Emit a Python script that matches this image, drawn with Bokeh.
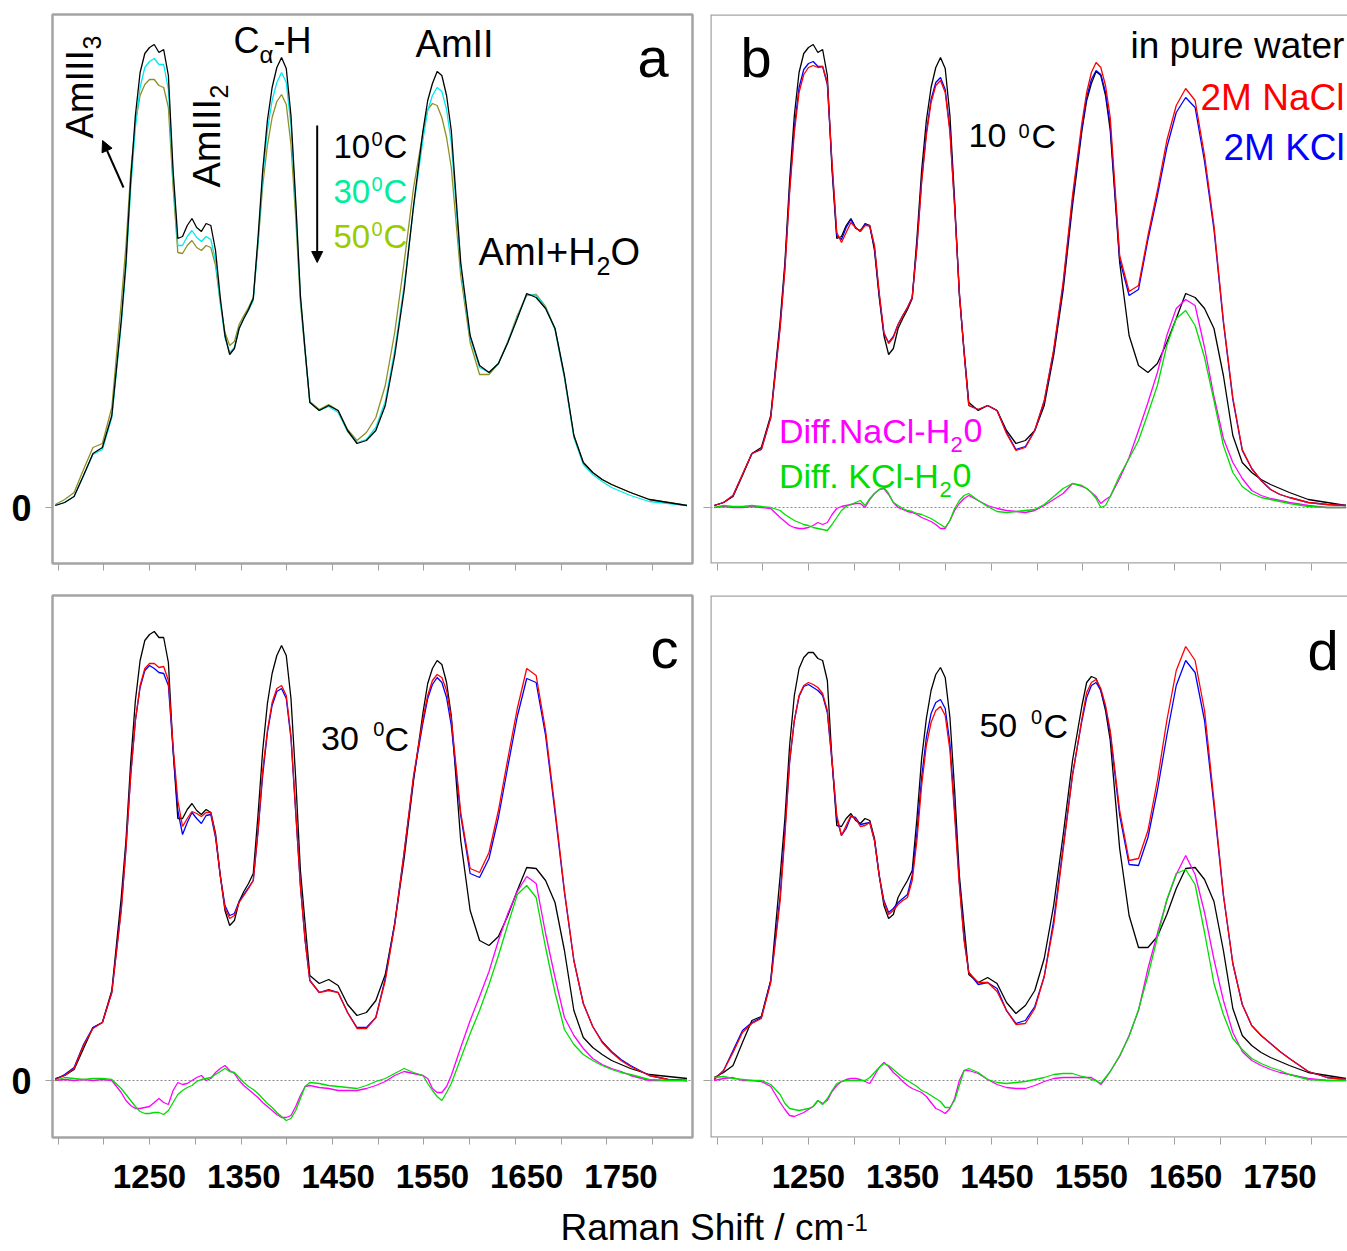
from math import pi
from bokeh.plotting import figure
from bokeh.layouts import column, row
from bokeh.models import Range1d, FixedTicker, Span, Arrow, NormalHead, LinearAxis
from bokeh.core.properties import value
from bokeh.embed import file_html
from bokeh.resources import INLINE

# ---------------- data (Raman shift in cm-1, intensity in arbitrary units) ----------------
wavenumber = [1150, 1160, 1170, 1180, 1190, 1200, 1210, 1220,
              1225, 1230, 1235, 1240, 1245, 1250, 1255, 1260, 1265, 1270,
              1275, 1280, 1285, 1290, 1295, 1300, 1305, 1310, 1315, 1320,
              1325, 1330, 1335, 1340, 1345, 1350, 1355, 1360, 1365, 1370,
              1375, 1380, 1385, 1390, 1395, 1400, 1405, 1410, 1415, 1420,
              1430, 1440, 1450, 1460, 1470, 1480, 1490, 1500, 1510, 1520, 1530, 1540,
              1545, 1550, 1555, 1560, 1565,
              1570, 1580, 1590, 1600, 1610, 1620, 1630, 1640, 1650, 1660,
              1670, 1680, 1690, 1700, 1710, 1720, 1730, 1740, 1750, 1760,
              1780, 1800, 1820]

# pure water spectra at 10, 30, 50 C
water_10 = [2, 5, 11, 32, 54, 60, 92, 187,
            245, 327, 392, 435, 454, 460, 463, 455, 458, 432,
            337, 269, 271, 282, 289, 280, 276, 284, 282, 257,
            210, 172, 153, 159, 179, 189, 198, 209, 269, 337,
            387, 420, 440, 450, 439, 392, 307, 212, 157, 105,
            97, 102, 97, 77, 64, 67, 77, 102, 152, 217, 302, 377,
            407, 424, 436, 432, 412,
            377, 245, 172, 142, 135, 144, 165, 189, 214, 210,
            199, 179, 132, 72, 45, 35, 28, 23, 19, 15,
            8, 5, 2]
water_30 = [2, 5, 11, 32, 53, 58, 90, 183,
            240, 318, 380, 420, 440, 446, 449, 443, 443, 418,
            330, 262, 262, 271, 277, 270, 266, 271, 268, 247,
            205, 170, 155, 160, 179, 189, 197, 207, 265, 330,
            377, 407, 425, 435, 425, 382, 302, 210, 157, 105,
            97, 101, 95, 76, 65, 68, 80, 106, 157, 222, 300, 368,
            397, 412, 420, 416, 398,
            365, 240, 170, 140, 135, 144, 165, 190, 213, 212,
            200, 178, 130, 70, 43, 33, 26, 20, 16, 12,
            6, 4, 2]
water_50 = [3, 8, 15, 38, 60, 64, 100, 205,
            262, 335, 385, 412, 423, 428, 428, 422, 420, 400,
            320, 255, 254, 262, 267, 260, 257, 262, 260, 242,
            205, 175, 162, 166, 183, 192, 200, 210, 262, 322,
            362, 390, 406, 413, 403, 363, 290, 205, 155, 106,
            98, 103, 97, 78, 67, 75, 90, 122, 175, 245, 320, 375,
            398, 404, 402, 390, 370,
            340, 232, 165, 133, 133, 144, 166, 192, 212, 213,
            201, 179, 130, 72, 45, 35, 28, 23, 19, 15,
            8, 5, 2]

# 2M NaCl / 2M KCl spectra and differences at 10 C
nacl_10 = [2, 5, 12, 33, 54, 58, 90, 180,
           238, 315, 375, 415, 433, 440, 442, 440, 441, 425,
           345, 275, 265, 275, 285, 280, 276, 282, 282, 262,
           215, 175, 164, 170, 183, 192, 200, 210, 260, 325,
           372, 405, 422, 427, 415, 375, 300, 215, 155, 102,
           98, 102, 97, 74, 57, 60, 77, 107, 158, 225, 312, 385,
           415, 435, 445, 440, 422,
           390, 252, 216, 222, 272, 317, 367, 402, 419, 407,
           352, 282, 187, 110, 58, 39, 27, 18, 13, 10,
           5, 3, 2]
kcl_10 = [2, 5, 12, 33, 54, 58, 90, 182,
          240, 318, 380, 420, 438, 444, 446, 441, 441, 423,
          342, 272, 268, 280, 288, 279, 277, 283, 281, 260,
          213, 174, 165, 171, 183, 192, 200, 210, 262, 327,
          375, 408, 425, 430, 418, 378, 302, 215, 155, 102,
          98, 102, 97, 75, 58, 61, 77, 106, 156, 222, 308, 380,
          410, 428, 437, 433, 415,
          382, 248, 212, 218, 268, 312, 360, 395, 410, 400,
          346, 278, 185, 108, 57, 39, 27, 18, 13, 10,
          5, 3, 2]
diff_nacl_10 = [0, 1, 0, 0, 1, 0, -1, -10,
                -14, -18, -20, -21, -21, -20, -18, -15, -17, -15,
                -7, -1, 1, 2, 3, 4, 4, 0, 8, 14,
                18, 19, 13, 5, 0, -2, -4, -5, -7, -10,
                -12, -14, -17, -21, -21, -13, -3, 4, 9, 12,
                7, 2, -1, -3, -4, -5, -3, 2, 8, 14, 24, 21,
                19, 15, 11, 4, 8,
                11, 29, 50, 77, 105, 135, 172, 199, 208, 202,
                160, 111, 69, 45, 29, 17, 12, 9, 7, 5,
                2, 0, 0]
diff_kcl_10 = [0, 2, 1, 1, 2, 1, 0, -3,
               -7, -10, -13, -15, -17, -18, -20, -21, -22, -23,
               -17, -10, -3, 1, 3, 5, 7, 2, 9, 14,
               18, 20, 14, 5, 2, -1, -3, -4, -6, -7,
               -9, -11, -14, -17, -20, -13, -1, 7, 12, 14,
               7, 1, -4, -5, -4, -3, -2, 3, 11, 19, 24, 22,
               19, 15, 9, 0, 2,
               11, 32, 49, 67, 94, 122, 162, 189, 197, 182,
               150, 107, 62, 35, 21, 14, 10, 8, 6, 4,
               1, 0, 0]

# 30 C
nacl_30 = [1, 5, 12, 35, 52, 58, 88, 170,
           232, 305, 360, 395, 412, 417, 417, 413, 414, 400,
           334, 280, 254, 262, 269, 267, 264, 268, 268, 245,
           205, 172, 162, 165, 178, 185, 192, 200, 250, 310,
           350, 378, 392, 395, 385, 345, 270, 195, 140, 100,
           88, 90, 88, 68, 52, 52, 63, 100, 155, 228, 305, 362,
           385, 400, 406, 403, 390,
           362, 268, 212, 208, 228, 270, 322, 372, 412, 405,
           350, 272, 190, 120, 77, 54, 38, 28, 20, 14,
           5, 1, 0]
kcl_30 = [1, 6, 13, 36, 53, 58, 88, 172,
          232, 305, 360, 393, 410, 415, 412, 408, 407, 395,
          330, 270, 246, 258, 268, 262, 257, 265, 266, 243,
          205, 175, 165, 167, 179, 186, 193, 200, 248, 305,
          348, 375, 389, 392, 382, 342, 268, 195, 140, 100,
          88, 91, 88, 68, 53, 53, 63, 102, 157, 228, 303, 358,
          382, 396, 403, 398, 383,
          355, 265, 207, 203, 222, 263, 314, 364, 402, 398,
          345, 268, 188, 120, 77, 54, 39, 29, 21, 15,
          5, 1, 0]
diff_nacl_30 = [0, 1, 0, 1, 0, 1, 0, -12,
                -20, -25, -28, -28, -27, -26, -22, -18, -22, -24,
                -10, -2, -4, -3, 0, 3, 5, 0, 2, 8,
                12, 15, 10, 7, 0, -5, -9, -13, -17, -22,
                -26, -30, -34, -37, -37, -35, -26, -15, -6, -5,
                -7, -8, -10, -10, -10, -8, -5, -1, 5, 9, 7, 5,
                2, -8, -12, -12, -6,
                5, 33, 60, 84, 109, 140, 167, 189, 204, 197,
                147, 103, 63, 45, 32, 22, 16, 12, 9, 5,
                0, 0, 0]
diff_kcl_30 = [0, 3, 2, 1, 2, 2, 1, -8,
               -14, -20, -26, -31, -33, -33, -32, -32, -34, -30,
               -22, -14, -10, -7, -5, -1, 1, 2, 3, 6,
               9, 12, 9, 8, 3, -2, -6, -9, -13, -18,
               -23, -27, -32, -36, -40, -38, -30, -18, -6, -2,
               -3, -5, -6, -7, -8, -5, -1, 2, 7, 12, 8, 5,
               -3, -10, -16, -20, -12,
               -3, 22, 47, 70, 96, 125, 156, 186, 195, 183,
               133, 88, 51, 36, 26, 20, 15, 11, 8, 6,
               1, 0, 0]

# 50 C
nacl_50 = [1, 10, 28, 48, 57, 62, 98, 180,
           245, 320, 360, 385, 395, 398, 396, 393, 387, 370,
           320, 265, 245, 255, 265, 262, 254, 255, 258, 240,
           205, 178, 166, 170, 176, 180, 183, 200, 240, 295,
           335, 358, 370, 374, 365, 330, 265, 195, 140, 108,
           98, 98, 89, 70, 56, 57, 72, 104, 155, 230, 305, 362,
           388, 398, 401, 392, 375,
           350, 270, 220, 222, 250, 300, 360, 410, 434, 420,
           370, 280, 186, 117, 76, 55, 45, 37, 29, 22,
           9, 3, 1]
kcl_50 = [1, 10, 30, 50, 58, 63, 100, 185,
          250, 318, 360, 384, 394, 396, 393, 390, 385, 368,
          318, 262, 245, 252, 264, 263, 256, 257, 258, 240,
          205, 180, 168, 172, 178, 182, 186, 205, 248, 303,
          343, 367, 378, 381, 372, 337, 270, 198, 142, 108,
          96, 98, 92, 70, 57, 60, 74, 104, 160, 233, 306, 360,
          383, 395, 398, 390, 373,
          347, 265, 216, 215, 243, 290, 345, 395, 420, 408,
          360, 275, 185, 117, 76, 55, 45, 37, 29, 22,
          9, 3, 1]
diff_nacl_50 = [0, 2, 3, 0, 0, -1, -6, -22,
                -29, -35, -36, -34, -32, -29, -26, -20, -23, -20,
                -11, -5, -1, 1, 2, 2, 1, -1, -3, 5,
                13, 18, 14, 8, 4, -1, -5, -8, -10, -12,
                -16, -22, -28, -30, -33, -28, -18, 0, 10, 10,
                7, 1, -4, -7, -8, -8, -5, -1, 2, 3, 3, 3,
                3, 3, 0, -4, 2,
                9, 24, 45, 70, 112, 147, 180, 206, 225, 206,
                168, 121, 80, 48, 29, 20, 15, 11, 8, 6,
                2, 0, 0]
diff_kcl_50 = [3, 4, 2, 1, 0, 0, -4, -14,
               -23, -28, -29, -30, -29, -28, -26, -20, -24, -18,
               -10, -3, -1, 0, 0, 0, 0, 0, 3, 8,
               13, 17, 15, 11, 7, 3, 0, -3, -6, -10,
               -12, -15, -18, -21, -27, -27, -20, -5, 10, 12,
               8, 1, -2, -3, -2, -1, 1, 3, 6, 7, 7, 4,
               3, 1, 0, -3, 3,
               9, 25, 44, 71, 105, 143, 181, 207, 211, 196,
               148, 97, 66, 42, 31, 22, 17, 13, 10, 6,
               1, 0, 0]

label_ticks = [1250, 1350, 1450, 1550, 1650, 1750]
minor_ticks = [1153, 1201.5, 1250, 1298.5, 1347, 1395.5, 1444, 1492.5,
               1541, 1589.5, 1638, 1686.5, 1735, 1783.5]

# ---------------- styling ----------------
FONT = "Liberation Sans"
FRAME = "#a4a4a4"
TICK = "#a0a0a0"
C_BLACK = "#000000"
C_CYAN = "#00e8f0"
C_OLIVE = "#8f8f26"
C_RED = "#ff0000"
C_BLUE = "#0000ff"
C_MAG = "#ff00ff"
C_GREEN = "#00dd00"
LW = 1.3
XSCALE = 1 / 0.943   # wavenumber units per screen pixel in the spectrum panels


def make_panel(xr, yr, width, height, left, right, top, bottom,
               tick_labels, zero_label, full_outline, zero_line):
    p = figure(width=width, height=height,
               x_range=Range1d(*xr), y_range=Range1d(*yr),
               x_axis_type=None, y_axis_type=None,
               output_backend="svg", toolbar_location=None)
    p.min_border_left = left
    p.min_border_right = right
    p.min_border_top = top
    p.min_border_bottom = bottom
    p.background_fill_color = "white"
    p.border_fill_color = "white"

    xaxis = LinearAxis(ticker=FixedTicker(ticks=label_ticks if tick_labels else [],
                                          minor_ticks=minor_ticks))
    xaxis.axis_line_color = None
    xaxis.major_tick_in = 0
    xaxis.major_tick_out = 7
    xaxis.major_tick_line_color = None
    xaxis.minor_tick_in = 0
    xaxis.minor_tick_out = 7
    xaxis.minor_tick_line_color = TICK
    xaxis.minor_tick_line_width = 1
    xaxis.major_label_text_font = FONT
    xaxis.major_label_text_font_style = "bold"
    xaxis.major_label_text_font_size = "33px"
    xaxis.major_label_text_color = "black"
    xaxis.major_label_standoff = 20
    p.add_layout(xaxis, "below")

    yaxis = LinearAxis(ticker=FixedTicker(ticks=[0], minor_ticks=[]))
    yaxis.axis_line_color = None
    yaxis.major_tick_in = 0
    yaxis.major_tick_out = 7
    yaxis.major_tick_line_color = TICK
    yaxis.minor_tick_line_color = None
    yaxis.major_label_text_font = FONT
    yaxis.major_label_text_font_style = "bold"
    yaxis.major_label_text_font_size = "36px"
    yaxis.major_label_text_color = "black"
    if zero_label:
        yaxis.major_label_standoff = 14
    else:
        yaxis.major_label_overrides = {0: ""}
        yaxis.major_label_standoff = 0
    p.add_layout(yaxis, "left")

    if full_outline:
        p.outline_line_color = FRAME
        p.outline_line_width = 2.5
    else:
        p.outline_line_color = None
        p.add_layout(Span(location=xr[0], dimension="height", line_color=FRAME, line_width=2.5))
        p.add_layout(Span(location=yr[0], dimension="width", line_color=FRAME, line_width=2.5))
        p.add_layout(Span(location=yr[1], dimension="width", line_color=FRAME, line_width=2.5))
    if zero_line:
        p.add_layout(Span(location=0, dimension="width", line_color="#8a8a8a",
                          line_width=1, line_dash="2 2", level="underlay"))
    return p


def txt(p, x, y, text, size, color="black", angle=0.0, xscale=XSCALE):
    # (x, y) is the start of the text baseline; the glyph is anchored at its middle
    if angle == 0.0:
        y = y + 0.35 * size
    else:
        x = x - 0.35 * size * xscale
    p.text(x=[x], y=[y], text=[text], text_font=value(FONT),
           text_font_size=value(f"{size}px"), text_color=color, angle=angle,
           text_align="left", text_baseline="middle")


XR_LEFT = (1147.1, 1825.8)
XR_RIGHT = (1146.1, 1821.6)
YR_TOP = (-56, 493)
YR_BOT = (-57, 485)

# ---------------- panel a ----------------
pa = make_panel(XR_LEFT, YR_TOP, 700, 590, 52, 8, 14, 27, False, True, True, False)
pa.line(wavenumber, water_50, line_color=C_OLIVE, line_width=LW)
pa.line(wavenumber, water_30, line_color=C_CYAN, line_width=LW)
pa.line(wavenumber, water_10, line_color=C_BLACK, line_width=LW)
txt(pa, 1190.6, 369, "AmIII", 38, angle=pi / 2)
txt(pa, 1198.0, 458, "3", 25, angle=pi / 2)
txt(pa, 1325.3, 320, "AmIII", 38, angle=pi / 2)
txt(pa, 1332.7, 409, "2", 25, angle=pi / 2)
txt(pa, 1339.1, 454, "C", 36)
txt(pa, 1366.6, 445, "α", 24)
txt(pa, 1381.5, 454, "-H", 36)
txt(pa, 1532.1, 450, "AmII", 38)
txt(pa, 1767.5, 430, "a", 56)
for (yy, col, lab) in [(349, "black", "10"), (304, "#00ee9c", "30"), (259, "#99cc00", "50")]:
    txt(pa, 1445.1, yy, lab, 33, color=col)
    txt(pa, 1485.4, yy + 13, "0", 20, color=col)
    txt(pa, 1498.1, yy, "C", 33, color=col)
txt(pa, 1598.9, 242, "AmI+H", 38)
txt(pa, 1724.0, 233, "2", 25)
txt(pa, 1738.9, 242, "O", 38)
pa.add_layout(Arrow(end=NormalHead(size=11, fill_color="black", line_color="black"),
                    x_start=1222.4, y_start=320, x_end=1200.2, y_end=367,
                    line_color="black", line_width=2))
pa.add_layout(Arrow(end=NormalHead(size=11, fill_color="black", line_color="black"),
                    x_start=1427.8, y_start=382, x_end=1427.8, y_end=245,
                    line_color="black", line_width=2))

# ---------------- panel b ----------------
pb = make_panel(XR_RIGHT, YR_TOP, 647, 590, 10, 0, 14, 27, False, False, False, True)
for ys, col in [(water_10, C_BLACK), (kcl_10, C_BLUE), (nacl_10, C_RED),
                (diff_nacl_10, C_MAG), (diff_kcl_10, C_GREEN)]:
    pb.line(wavenumber, ys, line_color=col, line_width=LW)
txt(pb, 1177.9, 430, "b", 56)
txt(pb, 1591.5, 449, "in pure water", 37)
txt(pb, 1665.7, 397, "2M NaCl", 37, color=C_RED)
txt(pb, 1690.1, 347, "2M KCl", 37, color=C_BLUE)
txt(pb, 1419.7, 360, "10", 34)
txt(pb, 1472.7, 370, "0", 20)
txt(pb, 1486.5, 360, "C", 34)
txt(pb, 1218.7, 65, "Diff.NaCl-H", 34, color=C_MAG)
txt(pb, 1400.6, 55, "2", 22, color=C_MAG)
txt(pb, 1414.4, 65, "0", 34, color=C_MAG)
txt(pb, 1218.7, 20, "Diff. KCl-H", 34, color=C_GREEN)
txt(pb, 1388.9, 10, "2", 22, color=C_GREEN)
txt(pb, 1402.7, 20, "0", 34, color=C_GREEN)

# ---------------- panel c ----------------
pc = make_panel(XR_LEFT, YR_BOT, 700, 610, 52, 8, 5, 63, True, True, True, True)
for ys, col in [(water_30, C_BLACK), (kcl_30, C_BLUE), (nacl_30, C_RED),
                (diff_nacl_30, C_MAG), (diff_kcl_30, C_GREEN)]:
    pc.line(wavenumber, ys, line_color=col, line_width=LW)
txt(pc, 1781.3, 412, "c", 56)
txt(pc, 1431.9, 330, "30", 34)
txt(pc, 1487.3, 345, "0", 20)
txt(pc, 1499.2, 330, "C", 34)

# ---------------- panel d ----------------
pd_ = make_panel(XR_RIGHT, YR_BOT, 647, 610, 10, 0, 5, 63, True, False, False, True)
for ys, col in [(water_50, C_BLACK), (kcl_50, C_BLUE), (nacl_50, C_RED),
                (diff_nacl_50, C_MAG), (diff_kcl_50, C_GREEN)]:
    pd_.line(wavenumber, ys, line_color=col, line_width=LW)
txt(pd_, 1779.2, 410, "d", 56)
txt(pd_, 1431.3, 343, "50", 34)
txt(pd_, 1486.0, 357, "0", 20)
txt(pd_, 1499.2, 343, "C", 34)

# ---------------- shared x-axis title ----------------
pl = figure(width=1347, height=49, x_range=Range1d(0, 1347), y_range=Range1d(0, 49),
            x_axis_type=None, y_axis_type=None, output_backend="svg", toolbar_location=None)
pl.min_border_left = 0
pl.min_border_right = 0
pl.min_border_top = 0
pl.min_border_bottom = 0
pl.outline_line_color = None
pl.background_fill_color = "white"
pl.border_fill_color = "white"
txt(pl, 560, 8.6, "Raman Shift / cm", 37, xscale=1)
txt(pl, 846, 18.6, "-1", 24, xscale=1)

layout = column(row(pa, pb), row(pc, pd_), pl)
open("out.html", "w").write(file_html(layout, INLINE, title="Raman spectra"))
